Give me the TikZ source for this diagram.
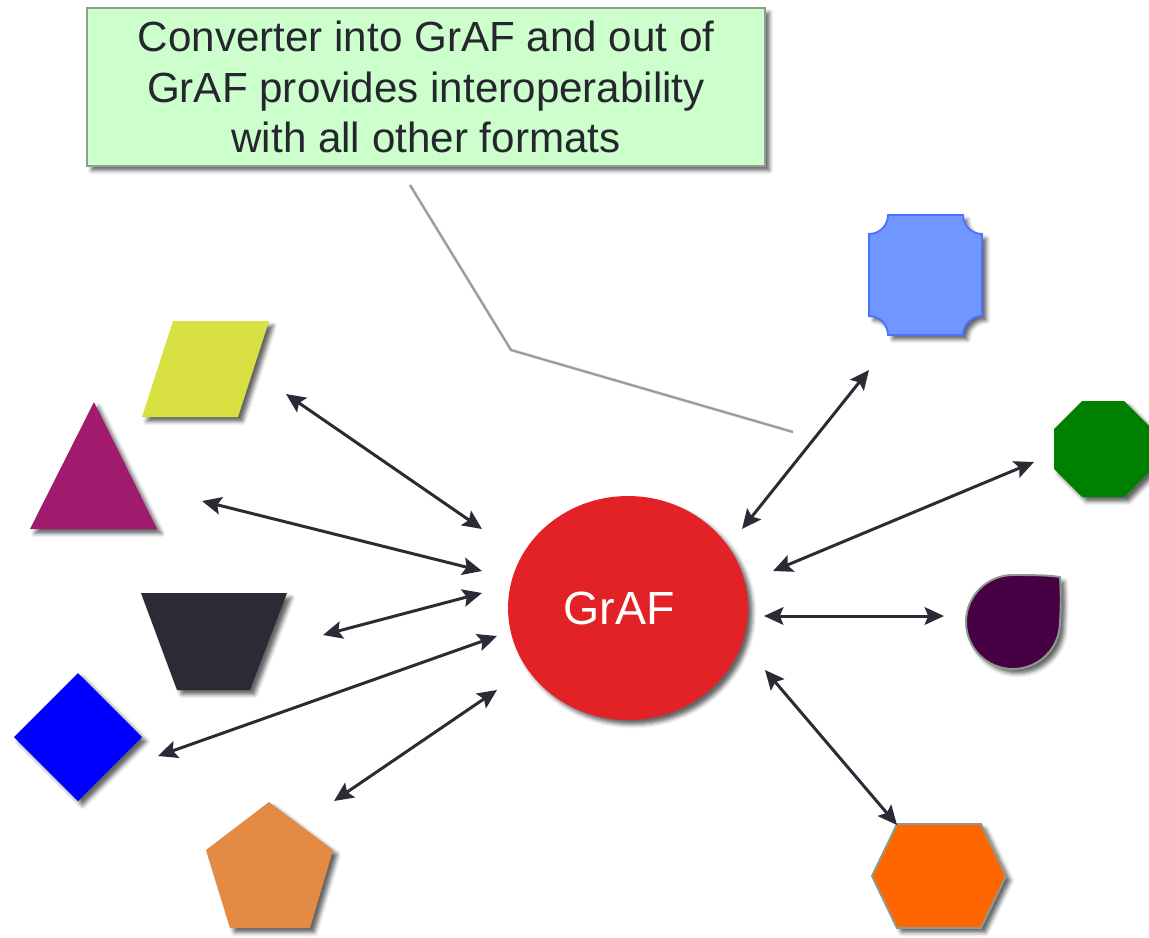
\documentclass[tikz,border=0pt]{standalone}
\usepackage{fontspec}
\setmainfont{Liberation Sans}
\usetikzlibrary{arrows.meta,shapes.geometric,shadows.blur}

\definecolor{notefill}{HTML}{CCFFCC}
\definecolor{noteline}{HTML}{8FA08F}
\definecolor{notetext}{HTML}{26262E}
\definecolor{grafred}{HTML}{E32227}
\definecolor{linkdark}{HTML}{2B2B36}
\definecolor{parayellow}{HTML}{D9E142}
\definecolor{triplum}{HTML}{A21A6E}
\definecolor{trapdark}{HTML}{2B2B36}
\definecolor{diamblue}{HTML}{0000FF}
\definecolor{pentorange}{HTML}{E38B45}
\definecolor{sqfill}{HTML}{7096FF}
\definecolor{sqline}{HTML}{4D72FF}
\definecolor{octgreen}{HTML}{008000}
\definecolor{dropfill}{HTML}{480044}
\definecolor{greyedge}{HTML}{8C9C8C}
\definecolor{hexorange}{HTML}{FF6600}

\begin{document}
\begin{tikzpicture}[x=0.02cm,y=-0.02cm,
  link/.style={draw=linkdark,line width=1.7pt,{Stealth[length=11pt,width=10pt,inset=2pt]}-{Stealth[length=11pt,width=10pt,inset=2pt]}},
  soft/.style={blur shadow={shadow xshift=2.6pt,shadow yshift=-2.6pt,shadow blur radius=2.2pt,shadow opacity=60}},
  notebox/.style={rectangle,fill=notefill,draw=noteline,line width=0.9pt,soft,
    minimum width=13.56cm,minimum height=3.16cm,inner sep=0pt,align=center,
    text=notetext,font=\fontsize{24}{28.6}\selectfont},
  hub/.style={ellipse,fill=grafred,soft,minimum width=4.8cm,minimum height=4.48cm,
    inner sep=0pt,text=white,font=\fontsize{26.5}{30}\selectfont},
  edged/.style={draw=greyedge,line width=1.1pt},
]
\useasboundingbox (0,0) rectangle (1149,937);

% callout box and its pointer
\node[notebox] (note) at (426,87)
  {Converter into GrAF and out of\\GrAF provides interoperability\\with all other formats};
\coordinate (tailA) at (410,185);
\coordinate (tailB) at (511,350);
\coordinate (tailC) at (793,432);
\draw[black!30,line width=1.8pt,opacity=0.5,shift={(3,3)}] (tailA) -- (tailB) -- (tailC);
\draw[noteline,line width=1.1pt] (tailA) -- (tailB) -- (tailC);

% central hub
\node[hub] (graf) at (628,608) {\hspace*{-0.36cm}GrAF};

% shapes on the left
\fill[parayellow,soft] (173,321) -- (269,321) -- (238,417) -- (142,417) -- cycle;
\fill[triplum,soft] (94,402) -- (157,529) -- (30,529) -- cycle;
\fill[trapdark,soft] (141,593) -- (287,593) -- (250,690) -- (177,690) -- cycle;
\fill[diamblue,soft] (78,673) -- (142,737) -- (78,801) -- (14,737) -- cycle;
\fill[pentorange,soft] (269,802) -- (333,850) -- (310,928) -- (230,928) -- (206,850) -- cycle;

% shapes on the right
\filldraw[fill=sqfill,draw=sqline,line width=1.1pt,soft]
  (888,215) -- (963,215) .. controls (963,225.5) and (971.5,234) .. (982,234)
  -- (982,316) .. controls (971.5,316) and (963,324.5) .. (963,335)
  -- (888,335) .. controls (888,324.5) and (879.5,316) .. (869,316)
  -- (869,234) .. controls (879.5,234) and (888,225.5) .. (888,215) -- cycle;
\fill[octgreen,soft] (1082,401) -- (1124,401) -- (1152,429) -- (1152,469)
  -- (1124,497) -- (1082,497) -- (1054,469) -- (1054,429) -- cycle;
\filldraw[fill=dropfill,edged,soft]
  (1013,575) .. controls (1030,575) and (1048,575) .. (1060,577)
  .. controls (1061,592) and (1061,607) .. (1060,622)
  .. controls (1060,648) and (1039,669) .. (1013,669)
  .. controls (987,669) and (966,648) .. (966,622)
  .. controls (966,596) and (987,575) .. (1013,575) -- cycle;
\filldraw[fill=hexorange,edged,soft] (872,876) -- (897,824) -- (981,824)
  -- (1006,876) -- (981,928) -- (897,928) -- cycle;

% arrow ends
\coordinate (paraEnd) at (286,394);   \coordinate (hubA) at (482,529);
\coordinate (triEnd) at (202,501);    \coordinate (hubB) at (482,571);
\coordinate (trapEnd) at (323,635);   \coordinate (hubC) at (482,593);
\coordinate (diamEnd) at (158,756);   \coordinate (hubD) at (497,636);
\coordinate (pentEnd) at (334,801);   \coordinate (hubE) at (497,690);
\coordinate (sqEnd) at (869,370);     \coordinate (hubF) at (742,529);
\coordinate (octEnd) at (1034,462);   \coordinate (hubG) at (773,571);
\coordinate (dropEnd) at (944,616);   \coordinate (hubH) at (764,616);
\coordinate (hexEnd) at (897,825);    \coordinate (hubI) at (765,670);

\draw[link] (paraEnd) -- (hubA);
\draw[link] (triEnd) -- (hubB);
\draw[link] (trapEnd) -- (hubC);
\draw[link] (diamEnd) -- (hubD);
\draw[link] (pentEnd) -- (hubE);
\draw[link] (hubF) -- (sqEnd);
\draw[link] (hubG) -- (octEnd);
\draw[link] (hubH) -- (dropEnd);
\draw[link] (hubI) -- (hexEnd);
\end{tikzpicture}
\end{document}
